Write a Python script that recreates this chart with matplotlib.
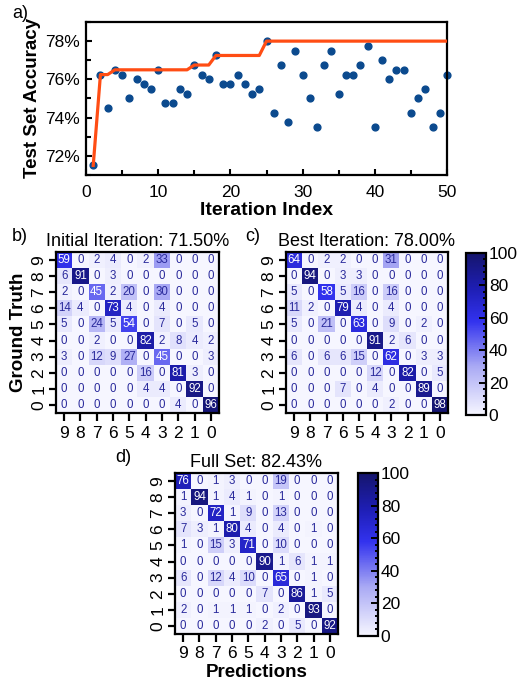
import numpy as np
import matplotlib
matplotlib.use("Agg")
import matplotlib.pyplot as plt
from matplotlib.colors import LinearSegmentedColormap
from matplotlib.ticker import MultipleLocator, FuncFormatter

plt.rcParams['font.family'] = ['Liberation Sans', 'DejaVu Sans']

# test set accuracy per iteration (%)
iterations = list(range(1, 51))
accuracy = [71.5, 76.25, 74.5, 76.5, 76.25, 75.0, 76.0, 75.75, 75.5, 76.5,
            74.75, 74.75, 75.5, 75.25, 76.75, 76.25, 76.0, 77.25, 75.75, 75.75,
            76.25, 75.75, 75.25, 75.5, 78.0, 74.25, 76.75, 73.75, 77.5, 76.25,
            75.0, 73.5, 76.75, 77.5, 75.25, 76.25, 76.25, 76.75, 77.75, 73.5,
            77.0, 76.0, 76.5, 76.5, 74.25, 75.0, 75.5, 73.5, 74.25, 76.25]
best_so_far = [71.5, 76.25, 76.25, 76.5, 76.5, 76.5, 76.5, 76.5, 76.5, 76.5,
               76.5, 76.5, 76.5, 76.5, 76.75, 76.75, 76.75, 77.25, 77.25, 77.25,
               77.25, 77.25, 77.25, 77.25, 78.0, 78.0, 78.0, 78.0, 78.0, 78.0,
               78.0, 78.0, 78.0, 78.0, 78.0, 78.0, 78.0, 78.0, 78.0, 78.0,
               78.0, 78.0, 78.0, 78.0, 78.0, 78.0, 78.0, 78.0, 78.0, 78.0]

# confusion matrices, rows = ground truth 9..0, cols = predictions 9..0
class_labels = ['9', '8', '7', '6', '5', '4', '3', '2', '1', '0']
cm_initial = [[59, 0, 2, 4, 0, 2, 33, 0, 0, 0],
              [6, 91, 0, 3, 0, 0, 0, 0, 0, 0],
              [2, 0, 45, 2, 20, 0, 30, 0, 0, 0],
              [14, 4, 0, 73, 4, 0, 4, 0, 0, 0],
              [5, 0, 24, 5, 54, 0, 7, 0, 5, 0],
              [0, 0, 2, 0, 0, 82, 2, 8, 4, 2],
              [3, 0, 12, 9, 27, 0, 45, 0, 0, 3],
              [0, 0, 0, 0, 0, 16, 0, 81, 3, 0],
              [0, 0, 0, 0, 0, 4, 4, 0, 92, 0],
              [0, 0, 0, 0, 0, 0, 0, 4, 0, 96]]
cm_best = [[64, 0, 2, 2, 0, 0, 31, 0, 0, 0],
           [0, 94, 0, 3, 3, 0, 0, 0, 0, 0],
           [5, 0, 58, 5, 16, 0, 16, 0, 0, 0],
           [11, 2, 0, 79, 4, 0, 4, 0, 0, 0],
           [5, 0, 21, 0, 63, 0, 9, 0, 2, 0],
           [0, 0, 0, 0, 0, 91, 2, 6, 0, 0],
           [6, 0, 6, 6, 15, 0, 62, 0, 3, 3],
           [0, 0, 0, 0, 0, 12, 0, 82, 0, 5],
           [0, 0, 0, 7, 0, 4, 0, 0, 89, 0],
           [0, 0, 0, 0, 0, 0, 2, 0, 0, 98]]
cm_full = [[76, 0, 1, 3, 0, 0, 19, 0, 0, 0],
           [1, 94, 1, 4, 1, 0, 1, 0, 0, 0],
           [3, 0, 72, 1, 9, 0, 13, 0, 0, 0],
           [7, 3, 1, 80, 4, 0, 4, 0, 1, 0],
           [1, 0, 15, 3, 71, 0, 10, 0, 0, 0],
           [0, 0, 0, 0, 0, 90, 1, 6, 1, 1],
           [6, 0, 12, 4, 10, 0, 65, 0, 1, 0],
           [0, 0, 0, 0, 0, 7, 0, 86, 1, 5],
           [2, 0, 1, 1, 1, 0, 2, 0, 93, 0],
           [0, 0, 0, 0, 0, 2, 0, 5, 0, 92]]

W, H = 517, 689
fig = plt.figure(figsize=(W / 100, H / 100), dpi=100)


def box(l, t, r, b):
    # axes from pixel edges (top-left origin)
    return fig.add_axes([l / W, 1 - b / H, (r - l) / W, (b - t) / H])


cmap = LinearSegmentedColormap.from_list(
    'blues', [(0, '#f6f6ff'), (0.3, '#a9a9f4'), (0.58, '#3232ee'),
              (0.78, '#1e1eb4'), (1, '#15156c')])
text_dark = '#2a2a9c'

# ---- a) accuracy vs iteration
ax = box(86, 22, 447, 175)
ax.scatter(iterations, accuracy, s=24, color='#0b4a8e', zorder=2, clip_on=False)
ax.plot(iterations, best_so_far, color='#ff4d14', lw=2.3, zorder=3)
ax.set_xlim(0, 50)
ax.set_ylim(71, 79)
ax.xaxis.set_major_locator(MultipleLocator(10))
ax.xaxis.set_minor_locator(MultipleLocator(5))
ax.yaxis.set_major_locator(MultipleLocator(2))
ax.yaxis.set_minor_locator(MultipleLocator(1))
ax.yaxis.set_major_formatter(FuncFormatter(lambda v, p: '%d%%' % v))
ax.tick_params(which='both', direction='in', width=1.5, labelsize=12.5)
ax.tick_params(which='major', length=4.5)
ax.tick_params(which='minor', length=3.5)
ax.tick_params(axis='x', pad=7.5)
ax.tick_params(axis='y', pad=4.5)
for s in ax.spines.values():
    s.set_linewidth(1.6)
ax.set_xlabel('Iteration Index', fontsize=14, fontweight='bold', labelpad=1)
ax.set_ylabel('Test Set Accuracy', fontsize=13.5, fontweight='bold', labelpad=3)
fig.text(12 / W, 1 - 13 / H, 'a)', fontsize=13, va='center')


def heatmap(ax, mat, title):
    mat = np.array(mat)
    im = ax.imshow(mat, cmap=cmap, vmin=0, vmax=100, aspect='auto')
    for i in range(mat.shape[0]):
        for j in range(mat.shape[1]):
            v = mat[i, j]
            ax.text(j, i, str(v), ha='center', va='center', fontsize=8.3,
                    color='white' if v >= 40 else text_dark)
    ax.set_xticks(range(10))
    ax.set_yticks(range(10))
    ax.set_xticklabels(class_labels)
    ax.set_yticklabels(class_labels, rotation=90, va='center')
    ax.tick_params(axis='x', length=6, width=1.6, labelsize=12.5, pad=3)
    ax.tick_params(axis='y', length=5, width=1.6, labelsize=12.5, pad=2)
    for s in ax.spines.values():
        s.set_linewidth(1.6)
    ax.set_title(title, fontsize=13, pad=4)
    return im


def colorbar(im, cax):
    cb = fig.colorbar(im, cax=cax)
    cb.set_ticks([0, 20, 40, 60, 80, 100])
    cax.yaxis.set_minor_locator(MultipleLocator(4))
    cax.tick_params(which='both', direction='in', width=1.4, labelsize=12.5, pad=2)
    cax.tick_params(which='major', length=5)
    cax.tick_params(which='minor', length=2.5)
    cb.outline.set_linewidth(1.6)


# ---- b) initial iteration
axb = box(56, 252, 219, 413)
heatmap(axb, cm_initial, 'Initial Iteration: 71.50%')
axb.set_ylabel('Ground Truth', fontsize=13.5, fontweight='bold', labelpad=3)
fig.text(12 / W, 1 - 236 / H, 'b)', fontsize=13, va='center')

# ---- c) best iteration
axc = box(286, 252, 448, 413)
im = heatmap(axc, cm_best, 'Best Iteration: 78.00%')
fig.text(245 / W, 1 - 236 / H, 'c)', fontsize=13, va='center')
colorbar(im, box(466, 253, 486, 415))

# ---- d) full set
axd = box(175, 473, 338, 634)
im = heatmap(axd, cm_full, 'Full Set: 82.43%')
axd.set_xlabel('Predictions', fontsize=13.5, fontweight='bold', labelpad=1.5)
fig.text(115 / W, 1 - 457 / H, 'd)', fontsize=13, va='center')
colorbar(im, box(358, 473, 378, 636))

fig.savefig('out.png', dpi=100)
